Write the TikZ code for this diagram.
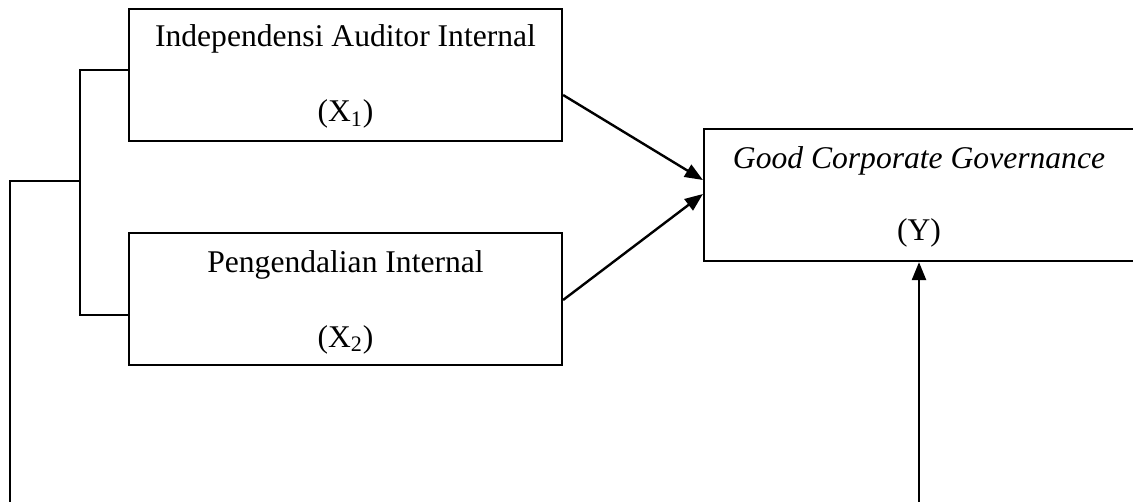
\documentclass[tikz,border=0pt]{standalone}
\usepackage{fontspec}
\setmainfont{Liberation Serif}
\usetikzlibrary{arrows.meta,calc}
\begin{document}
\begin{tikzpicture}[x=0.5pt,y=-0.5pt,
  box/.style={draw,line width=1.1pt,rectangle,minimum width=216.5pt,minimum height=66pt,inner sep=0pt},
  ybox/.style={box,minimum width=215pt},
  lbl/.style={anchor=base,inner sep=0pt,font=\fontsize{15.8}{19}\selectfont},
  conn/.style={line width=1.1pt},
  arr/.style={line width=1.2pt,-{Triangle[length=9pt,width=7pt]}}]
\useasboundingbox (0,0) rectangle (1133,502);
\node[box] (x1) at (345.5,75) {};
\node[box] (x2) at (345.5,299) {};
\node[ybox] (y) at (919,195) {};
\node[lbl] (t1) at (345.5,47) {Independensi Auditor Internal};
\node[lbl] (t1b) at (345.5,122) {(X\textsubscript{1})};
\node[lbl] (t2) at (345.5,272) {Pengendalian Internal};
\node[lbl] (t2b) at (345.5,347) {(X\textsubscript{2})};
\node[lbl] (t3) at (919,169) {\textit{Good Corporate Governance}};
\node[lbl] (t3b) at (919,240) {(Y)};
\coordinate (b1) at (80,70);
\coordinate (b2) at (80,315);
\coordinate (bm) at (80,181);
\coordinate (l1) at (10,181);
\coordinate (l2) at (10,512);
\coordinate (yb) at (919,512);
\draw[conn] (x1.west |- b1) -- (b1) -- (b2) -- (x2.west |- b2);
\draw[conn] (bm) -- (l1) -- (l2);
\draw[arr] ($(x1.east)+(0,20)$) -- ($(y.west)+(0,-15)$);
\draw[arr] ($(x2.east)+(0,1)$) -- ($(y.west)+(0,-1)$);
\draw[arr] (yb) -- (y.south);
\end{tikzpicture}
\end{document}
